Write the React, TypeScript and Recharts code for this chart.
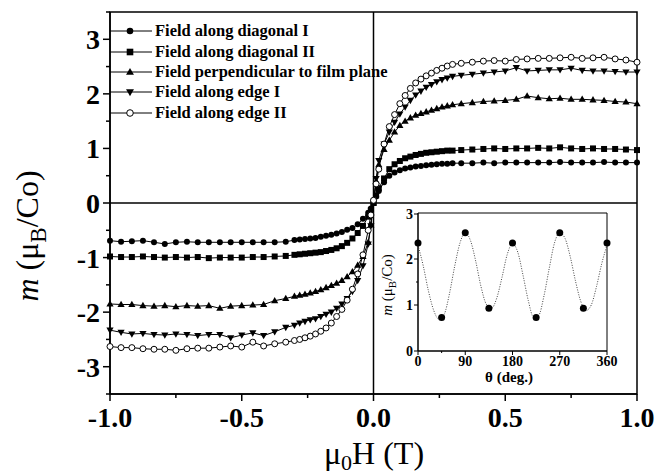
import React from "react";
import { ComposedChart, Line, XAxis, YAxis, ReferenceLine, ReferenceArea, Legend, Label } from "recharts";

const FONT = '"Liberation Serif", "Times New Roman", serif';

// applied field mu0H (T)
const FIELD = [
  -1.0, -0.958, -0.917, -0.875, -0.833, -0.792, -0.75, -0.708, -0.667, -0.625, -0.583, -0.542, -0.5, -0.458, -0.417, -0.375, -0.333,
  -0.3, -0.28, -0.26, -0.24, -0.22, -0.2, -0.18, -0.16, -0.14, -0.12, -0.1, -0.08, -0.06, -0.04, -0.02,
  -0.01, 0, 0.01,
  0.02, 0.04, 0.06, 0.08, 0.1, 0.12, 0.14, 0.16, 0.18, 0.2, 0.22, 0.24, 0.26, 0.28, 0.3,
  0.333, 0.375, 0.417, 0.458, 0.5, 0.542, 0.583, 0.625, 0.667, 0.708, 0.75, 0.792, 0.833, 0.875, 0.917, 0.958, 1.0,
];

// moment m (muB/Co), one value per field point
const DIAG_I = [
  -0.69, -0.71, -0.70, -0.69, -0.72, -0.75, -0.72, -0.71, -0.72, -0.72, -0.72, -0.72, -0.72, -0.72, -0.72, -0.72, -0.71,
  -0.68, -0.67, -0.66, -0.65, -0.64, -0.62, -0.60, -0.58, -0.56, -0.53, -0.49, -0.46, -0.39, -0.29, -0.18,
  -0.10, 0, 0.12,
  0.22, 0.38, 0.5, 0.56, 0.6, 0.63, 0.65, 0.67, 0.68, 0.69, 0.7, 0.71, 0.72, 0.72, 0.73,
  0.73, 0.73, 0.74, 0.73, 0.74, 0.74, 0.74, 0.74, 0.74, 0.75, 0.74, 0.74, 0.74, 0.75, 0.74, 0.74, 0.74,
];
const DIAG_II = [
  -0.98, -0.99, -0.99, -0.98, -0.99, -1.0, -0.99, -1.0, -0.99, -1.01, -1.0, -1.0, -1.0, -0.99, -0.99, -0.98, -0.97,
  -0.95, -0.94, -0.93, -0.92, -0.91, -0.9, -0.88, -0.86, -0.83, -0.79, -0.73, -0.65, -0.55, -0.42, -0.25,
  -0.13, 0, 0.14,
  0.27, 0.45, 0.62, 0.71, 0.77, 0.82, 0.85, 0.88, 0.9, 0.92, 0.93, 0.94, 0.95, 0.96, 0.96,
  0.97, 0.98, 0.99, 1.0, 0.99, 1.0, 1.0, 1.01, 1.0, 1.02, 1.0, 0.99, 1.0, 0.99, 0.99, 0.98, 0.97,
];
const PERP = [
  -1.85, -1.86, -1.86, -1.88, -1.89, -1.88, -1.9, -1.88, -1.89, -1.88, -1.93, -1.89, -1.88, -1.87, -1.86, -1.79, -1.75,
  -1.71, -1.69, -1.67, -1.65, -1.62, -1.59, -1.55, -1.51, -1.47, -1.42, -1.35, -1.26, -1.14, -0.98, -0.72,
  -0.4, 0, 0.4,
  0.7, 0.98, 1.15, 1.3, 1.42, 1.5, 1.56, 1.61, 1.64, 1.67, 1.7, 1.73, 1.76, 1.78, 1.8,
  1.82, 1.84, 1.86, 1.87, 1.88, 1.9, 1.96, 1.93, 1.91, 1.92, 1.9, 1.9, 1.89, 1.88, 1.86, 1.85, 1.82,
];
const EDGE_I = [
  -2.33, -2.37, -2.4, -2.39, -2.41, -2.42, -2.4, -2.41, -2.43, -2.41, -2.41, -2.47, -2.42, -2.38, -2.43, -2.36, -2.28,
  -2.24, -2.2, -2.17, -2.14, -2.12, -2.08, -2.04, -2.0, -1.93, -1.85, -1.75, -1.62, -1.42, -1.15, -0.75,
  -0.42, 0, 0.45,
  0.78, 1.08, 1.3, 1.48, 1.63, 1.76, 1.88, 1.98, 2.05, 2.12, 2.17, 2.22, 2.26, 2.29, 2.32,
  2.34, 2.36, 2.38, 2.4, 2.42, 2.48, 2.42, 2.43, 2.44, 2.44, 2.47, 2.43, 2.42, 2.42, 2.41, 2.4, 2.4,
];
const EDGE_II = [
  -2.63, -2.65, -2.65, -2.67, -2.68, -2.68, -2.7, -2.67, -2.66, -2.66, -2.64, -2.62, -2.64, -2.55, -2.62, -2.58, -2.55,
  -2.52, -2.5, -2.47, -2.44, -2.4, -2.35, -2.29, -2.2, -2.08, -1.95, -1.78, -1.58, -1.3, -0.95, -0.5,
  -0.22, 0.05, 0.35,
  0.62, 1.08, 1.4, 1.62, 1.82, 1.97, 2.1, 2.2, 2.27, 2.33, 2.38, 2.43, 2.47, 2.51, 2.54,
  2.56, 2.58, 2.6, 2.61, 2.6, 2.63, 2.64, 2.65, 2.65, 2.66, 2.67, 2.65, 2.66, 2.67, 2.64, 2.62, 2.58,
];

const SERIES = [
  { key: "d1", name: "Field along diagonal I", marker: "circle", values: DIAG_I },
  { key: "d2", name: "Field along diagonal II", marker: "square", values: DIAG_II },
  { key: "perp", name: "Field perpendicular to film plane", marker: "up", values: PERP },
  { key: "e1", name: "Field along edge I", marker: "down", values: EDGE_I },
  { key: "e2", name: "Field along edge II", marker: "open", values: EDGE_II },
];

const X_TICKS = [-1, -0.75, -0.5, -0.25, 0, 0.25, 0.5, 0.75, 1];
const Y_TICKS = [-3.5, -3, -2.5, -2, -1.5, -1, -0.5, 0, 0.5, 1, 1.5, 2, 2.5, 3, 3.5];

// inset: angular dependence of m
const ANGLE_FIT = [0, 10, 20, 30, 40, 50, 60, 70, 80, 90, 100, 110, 120, 130, 140, 150, 160, 170, 180,
  190, 200, 210, 220, 230, 240, 250, 260, 270, 280, 290, 300, 310, 320, 330, 340, 350, 360];
const M_FIT = [2.3, 1.85, 1.3, 0.88, 0.69, 0.8, 1.25, 1.85, 2.35, 2.57, 2.4, 1.95, 1.4, 1.02, 0.93, 1.15, 1.6, 2.1, 2.33,
  2.15, 1.65, 1.1, 0.74, 0.78, 1.2, 1.8, 2.35, 2.57, 2.45, 2.05, 1.52, 1.08, 0.88, 1.0, 1.4, 1.9, 2.3];
const ANGLE_MEAS = [0, 45, 90, 135, 180, 225, 270, 315, 360];
const M_MEAS = [2.35, 0.73, 2.57, 0.93, 2.35, 0.73, 2.57, 0.93, 2.35];
const INSET_X_TICKS = [0, 45, 90, 135, 180, 225, 270, 315, 360];
const INSET_Y_TICKS = [0, 0.5, 1, 1.5, 2, 2.5, 3];

const rows = FIELD.map((h, i) => {
  const r: Record<string, number> = { h };
  SERIES.forEach((s) => (r[s.key] = s.values[i]));
  return r;
});
const fitRows = ANGLE_FIT.map((t, i) => ({ t, m: M_FIT[i] }));
const measRows = ANGLE_MEAS.map((t, i) => ({ t, m: M_MEAS[i] }));

function Marker({ kind, cx, cy, r = 3 }: { kind: string; cx: number; cy: number; r?: number }) {
  if (cx == null || cy == null || isNaN(cx) || isNaN(cy)) return null;
  switch (kind) {
    case "square":
      return <rect x={cx - r} y={cy - r} width={2 * r} height={2 * r} fill="#000" />;
    case "up":
      return <polygon points={`${cx},${cy - r * 1.25} ${cx - r * 1.2},${cy + r * 0.85} ${cx + r * 1.2},${cy + r * 0.85}`} fill="#000" />;
    case "down":
      return <polygon points={`${cx},${cy + r * 1.25} ${cx - r * 1.2},${cy - r * 0.85} ${cx + r * 1.2},${cy - r * 0.85}`} fill="#000" />;
    case "open":
      return <circle cx={cx} cy={cy} r={r} fill="#fff" stroke="#000" strokeWidth={1} />;
    default:
      return <circle cx={cx} cy={cy} r={r} fill="#000" />;
  }
}

const XTick = (props: any) => {
  const { x, y, payload } = props;
  const v = payload.value;
  const major = Math.abs(v * 2 - Math.round(v * 2)) < 1e-6;
  return (
    <g>
      <line x1={x} x2={x} y1={y} y2={y + (major ? 7 : 4)} stroke="#000" strokeWidth={1.5} />
      {major && (
        <text x={x} y={y + 33} textAnchor="middle" fontFamily={FONT} fontWeight="bold" fontSize={28} fill="#000">
          {v.toFixed(1)}
        </text>
      )}
    </g>
  );
};

const YTick = (props: any) => {
  const { x, y, payload } = props;
  const v = payload.value;
  const major = Number.isInteger(v);
  return (
    <g>
      <line x1={x - (major ? 7 : 4)} x2={x} y1={y} y2={y} stroke="#000" strokeWidth={1.5} />
      {major && (
        <text x={x - 10} y={y + 10} textAnchor="end" fontFamily={FONT} fontWeight="bold" fontSize={28} fill="#000">
          {v}
        </text>
      )}
    </g>
  );
};

const InsetXTick = (props: any) => {
  const { x, y, payload } = props;
  const v = payload.value;
  const major = v % 90 === 0;
  return (
    <g>
      <line x1={x} x2={x} y1={y} y2={y + (major ? 4 : 2)} stroke="#000" strokeWidth={1} />
      {major && (
        <text x={x} y={y + 15} textAnchor="middle" fontFamily={FONT} fontWeight="bold" fontSize={14} fill="#000">
          {v}
        </text>
      )}
    </g>
  );
};

const InsetYTick = (props: any) => {
  const { x, y, payload } = props;
  const v = payload.value;
  const major = Number.isInteger(v);
  return (
    <g>
      <line x1={x - (major ? 4 : 2)} x2={x} y1={y} y2={y} stroke="#000" strokeWidth={1} />
      {major && (
        <text x={x - 5} y={y + 5} textAnchor="end" fontFamily={FONT} fontWeight="bold" fontSize={14} fill="#000">
          {v}
        </text>
      )}
    </g>
  );
};

function LegendBox() {
  return (
    <div style={{ fontFamily: FONT, fontWeight: "bold", fontSize: 16.5, color: "#000" }}>
      {SERIES.map((s) => (
        <div key={s.key} style={{ display: "flex", alignItems: "center", height: 20.4, whiteSpace: "nowrap" }}>
          <svg width={45} height={20} style={{ display: "block" }}>
            <line x1={0} x2={42} y1={10} y2={10} stroke="#000" strokeWidth={1} />
            <Marker kind={s.marker} cx={20} cy={10} r={3.3} />
          </svg>
          <span>{s.name}</span>
        </div>
      ))}
    </div>
  );
}

function Inset() {
  return (
    <ComposedChart width={248} height={190} margin={{ top: 8, right: 13, bottom: 14, left: 16 }}>
      <XAxis
        type="number"
        dataKey="t"
        domain={[0, 360]}
        ticks={INSET_X_TICKS}
        tick={<InsetXTick />}
        tickLine={false}
        tickSize={0}
        tickMargin={0}
        height={30}
        axisLine={{ stroke: "#000", strokeWidth: 1 }}
        allowDuplicatedCategory={false}
      >
        <Label
          content={() => (
            <text x={137} y={177} textAnchor="middle" fontFamily={FONT} fontWeight="bold" fontSize={15} fill="#000">
              θ (deg.)
            </text>
          )}
        />
      </XAxis>
      <YAxis
        type="number"
        domain={[0, 3]}
        ticks={INSET_Y_TICKS}
        tick={<InsetYTick />}
        tickLine={false}
        tickSize={0}
        tickMargin={0}
        width={30}
        axisLine={{ stroke: "#000", strokeWidth: 1 }}
      >
        <Label
          content={() => (
            <text transform="translate(20,80) rotate(-90)" textAnchor="middle" fontFamily={FONT} fontSize={15} fill="#000">
              <tspan fontStyle="italic">m</tspan>
              <tspan> (μ</tspan>
              <tspan dy={4} fontSize={11}>B</tspan>
              <tspan dy={-4}>/Co)</tspan>
            </text>
          )}
        />
      </YAxis>
      <ReferenceArea x1={0} x2={360} y1={0} y2={3} fill="none" stroke="#000" strokeWidth={1} ifOverflow="visible" />
      <Line
        data={fitRows}
        dataKey="m"
        type="monotone"
        stroke="#444"
        strokeWidth={1}
        strokeDasharray="1 1.5"
        dot={false}
        isAnimationActive={false}
      />
      <Line
        data={measRows}
        dataKey="m"
        stroke="none"
        dot={(p: any) => <Marker key={`m-${p.index}`} kind="circle" cx={p.cx} cy={p.cy} r={3.5} />}
        isAnimationActive={false}
      />
    </ComposedChart>
  );
}

export default function App() {
  return (
    <div style={{ position: "absolute", left: 0, top: 0, width: 665, height: 474, background: "#fff" }}>
      <ComposedChart width={665} height={474} data={rows} margin={{ top: 12, right: 28, bottom: 40, left: 50 }}>
        <XAxis
          type="number"
          dataKey="h"
          domain={[-1, 1]}
          ticks={X_TICKS}
          tick={<XTick />}
          tickLine={false}
          tickSize={0}
          tickMargin={0}
          height={40}
          axisLine={{ stroke: "#000", strokeWidth: 1.5 }}
        >
          <Label
            content={() => (
              <text x={374} y={464} textAnchor="middle" fontFamily={FONT} fontSize={32} fill="#000">
                <tspan>μ</tspan>
                <tspan dy={6} fontSize={22}>0</tspan>
                <tspan dy={-6}>H (T)</tspan>
              </text>
            )}
          />
        </XAxis>
        <YAxis
          type="number"
          domain={[-3.5, 3.5]}
          ticks={Y_TICKS}
          tick={<YTick />}
          tickLine={false}
          tickSize={0}
          tickMargin={0}
          width={60}
          axisLine={{ stroke: "#000", strokeWidth: 1.5 }}
        >
          <Label
            content={() => (
              <text transform="translate(38,236) rotate(-90)" textAnchor="middle" fontFamily={FONT} fontSize={32} fill="#000">
                <tspan fontStyle="italic">m</tspan>
                <tspan> (μ</tspan>
                <tspan dy={8} fontSize={23}>B</tspan>
                <tspan dy={-8}>/Co)</tspan>
              </text>
            )}
          />
        </YAxis>
        <ReferenceArea x1={-1} x2={1} y1={-3.5} y2={3.5} fill="none" stroke="#000" strokeWidth={1.5} ifOverflow="visible" />
        <ReferenceLine x={0} stroke="#000" strokeWidth={1.5} />
        <ReferenceLine y={0} stroke="#000" strokeWidth={1.5} />
        {SERIES.map((s) => (
          <Line
            key={s.key}
            dataKey={s.key}
            name={s.name}
            type="linear"
            stroke="#000"
            strokeWidth={1}
            dot={(p: any) => <Marker key={`${s.key}-${p.index}`} kind={s.marker} cx={p.cx} cy={p.cy} r={3} />}
            isAnimationActive={false}
          />
        ))}
        <Legend
          layout="vertical"
          align="center"
          verticalAlign="middle"
          wrapperStyle={{ left: 110, top: 21, width: 330, height: 105 }}
          content={() => <LegendBox />}
        />
      </ComposedChart>
      <div style={{ position: "absolute", left: 372, top: 205 }}>
        <Inset />
      </div>
    </div>
  );
}
